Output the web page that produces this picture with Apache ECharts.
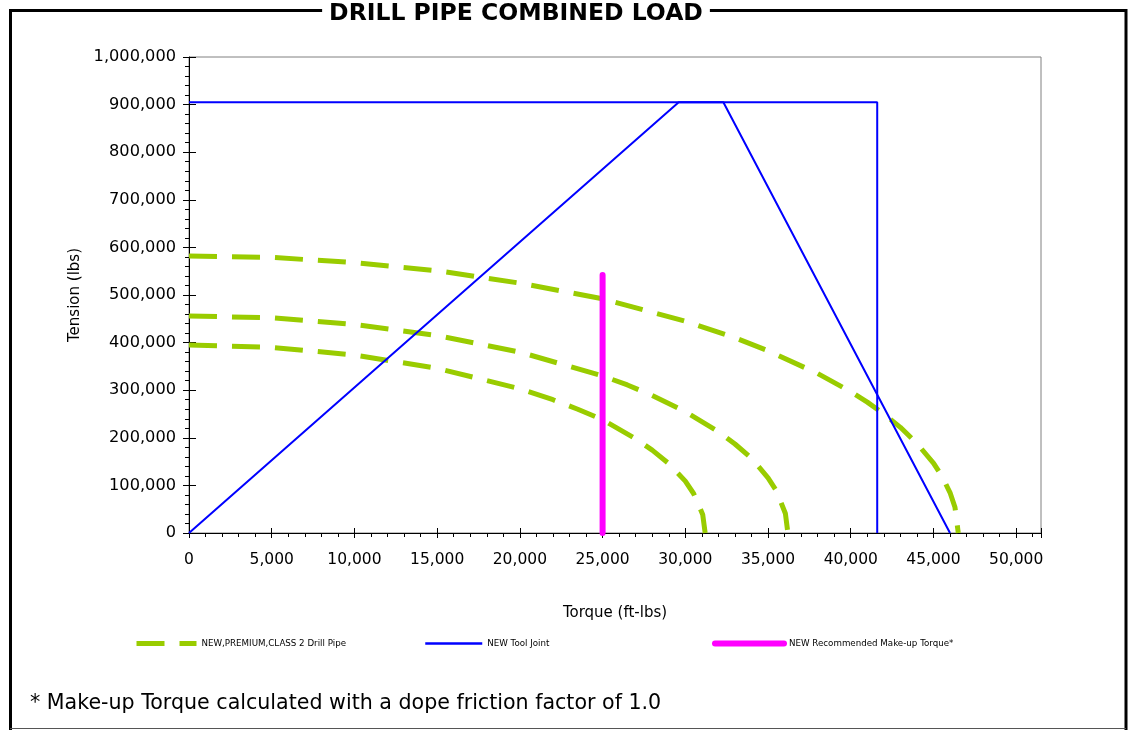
<!DOCTYPE html>
<html>
<head>
<meta charset="utf-8">
<title>Drill Pipe Combined Load</title>
<script src="https://cdn.jsdelivr.net/npm/echarts@6/dist/echarts.min.js"></script>
<style>
  html, body { margin: 0; padding: 0; background: #fff; }
  #chart { width: 1129px; height: 730px; }
</style>
</head>
<body>
<div id="chart"></div>
<script>
// torque (ft-lbs) / tension (lbs) pairs
const pipeOuter = [
  [0, 582000], [5000, 579000], [10000, 568000], [15000, 551000], [20000, 525000],
  [25000, 492000], [30000, 445000], [33000, 410000], [35000, 383000], [38000, 335000],
  [40000, 297000], [41000, 275000], [42000, 250000], [43000, 222000], [44000, 188000],
  [45000, 147000], [45500, 120000], [46000, 85000], [46300, 54000], [46500, 0]
];
const pipeMiddle = [
  [0, 456000], [5000, 452000], [10000, 438000], [15000, 415000], [20000, 380000],
  [25000, 330000], [26500, 311000], [28000, 289000], [30000, 255000], [32000, 213000],
  [33000, 187000], [34000, 157000], [35000, 116000], [35500, 89000], [36050, 41000],
  [36200, 0]
];
const pipeInner = [
  [0, 395000], [5000, 390000], [10000, 374000], [15000, 346000], [20000, 303000],
  [22000, 280000], [23500, 260000], [25000, 238000], [27000, 198000], [28000, 174000],
  [29000, 146000], [30000, 109000], [30500, 83000], [31050, 39000], [31200, 0]
];
const toolJointPeak = [[0, 0], [29600, 905000], [32300, 905000], [46000, 0]];
const toolJointLimit = [[0, 905000], [41600, 905000], [41600, 0]];
const makeUpTorque = [[25000, 0], [25000, 542000]];

const xMax = 51500, xStep = 5000;
const yMax = 1000000, yStep = 100000;

const FONT = 'DejaVu Sans';
const GREEN = '#99CC00', BLUE = '#0000FF', PINK = '#FF00FF';

const chart = echarts.init(document.getElementById('chart'));

const legendText = { fontFamily: FONT, fontSize: 8.7, color: '#000' };
// hide the marker the line legend icon draws in its middle
const legendItem = { opacity: 0 };

const option = {
  animation: false,
  backgroundColor: '#fff',
  grid: {
    left: 189, right: 88, top: 57, bottom: 197,
    show: true, borderColor: '#808080', borderWidth: 1
  },
  legend: [
    {
      data: ['NEW,PREMIUM,CLASS 2 Drill Pipe'], left: 129, top: 633, itemWidth: 60, itemHeight: 14,
      itemStyle: legendItem, lineStyle: { width: 5 }, textStyle: legendText
    },
    {
      data: ['NEW Tool Joint'], left: 419, top: 633, itemWidth: 57, itemHeight: 14,
      itemStyle: legendItem, lineStyle: { width: 2.5 }, textStyle: legendText
    },
    {
      data: ['NEW Recommended Make-up Torque*'], left: 707, top: 633, itemWidth: 69, itemHeight: 14,
      itemStyle: legendItem, lineStyle: { width: 6, cap: 'round' }, textStyle: legendText
    }
  ],
  xAxis: [
    {
      type: 'value', min: 0, max: xMax, interval: xStep,
      name: 'Torque (ft-lbs)', nameLocation: 'middle', nameGap: 73,
      nameTextStyle: { fontFamily: FONT, fontSize: 15, color: '#000' },
      axisLine: { show: true, onZero: false, lineStyle: { color: '#000', width: 1 } },
      axisTick: { show: true, length: 5, lineStyle: { color: '#000' } },
      minorTick: { show: true, splitNumber: 5, length: 4, lineStyle: { color: '#000' } },
      axisLabel: { margin: 19, fontFamily: FONT, fontSize: 15.5, color: '#000', showMaxLabel: false },
      splitLine: { show: false }
    },
    {
      type: 'value', min: 0, max: xMax, interval: xStep, position: 'bottom',
      axisLine: { show: false },
      axisTick: { show: true, inside: true, length: 5, lineStyle: { color: '#000' } },
      axisLabel: { show: false },
      splitLine: { show: false }
    }
  ],
  yAxis: [
    {
      type: 'value', min: 0, max: yMax, interval: yStep,
      name: 'Tension (lbs)', nameLocation: 'middle', nameGap: 96,
      nameTextStyle: { fontFamily: FONT, fontSize: 15, color: '#000' },
      axisLine: { show: true, onZero: false, lineStyle: { color: '#000', width: 1 } },
      axisTick: { show: true, length: 6, lineStyle: { color: '#000' } },
      minorTick: { show: true, splitNumber: 5, length: 4, lineStyle: { color: '#000' } },
      axisLabel: { margin: 13, fontFamily: FONT, fontSize: 16.2, color: '#000' },
      splitLine: { show: false }
    },
    {
      type: 'value', min: 0, max: yMax, interval: yStep, position: 'left',
      axisLine: { show: false },
      axisTick: { show: true, inside: true, length: 7, lineStyle: { color: '#000' } },
      axisLabel: { show: false },
      splitLine: { show: false }
    }
  ],
  series: [
    {
      name: 'NEW,PREMIUM,CLASS 2 Drill Pipe', type: 'line', data: pipeOuter,
      symbol: 'none', lineStyle: { color: GREEN, width: 5, type: [28, 15] }, itemStyle: { color: GREEN }
    },
    {
      name: 'NEW,PREMIUM,CLASS 2 Drill Pipe', type: 'line', data: pipeMiddle,
      symbol: 'none', lineStyle: { color: GREEN, width: 5, type: [28, 15] }, itemStyle: { color: GREEN }
    },
    {
      name: 'NEW,PREMIUM,CLASS 2 Drill Pipe', type: 'line', data: pipeInner,
      symbol: 'none', lineStyle: { color: GREEN, width: 5, type: [28, 15] }, itemStyle: { color: GREEN }
    },
    {
      name: 'NEW Tool Joint', type: 'line', data: toolJointPeak,
      symbol: 'none', lineStyle: { color: BLUE, width: 2 }, itemStyle: { color: BLUE }
    },
    {
      name: 'NEW Tool Joint', type: 'line', data: toolJointLimit,
      symbol: 'none', lineStyle: { color: BLUE, width: 2 }, itemStyle: { color: BLUE }
    },
    {
      name: 'NEW Recommended Make-up Torque*', type: 'line', data: makeUpTorque,
      symbol: 'none', lineStyle: { color: PINK, width: 6, cap: 'round' }, itemStyle: { color: PINK }, z: 3
    }
  ],
  graphic: [
    // outer frame
    { type: 'line', shape: { x1: 10, y1: 10.5, x2: 1126, y2: 10.5 }, style: { stroke: '#000', lineWidth: 3 }, z: 1 },
    { type: 'line', shape: { x1: 10.5, y1: 9, x2: 10.5, y2: 730 }, style: { stroke: '#000', lineWidth: 3 }, z: 1 },
    { type: 'line', shape: { x1: 1126, y1: 9, x2: 1126, y2: 730 }, style: { stroke: '#000', lineWidth: 3 }, z: 1 },
    { type: 'line', shape: { x1: 10, y1: 728.5, x2: 1126, y2: 728.5 }, style: { stroke: '#555', lineWidth: 1 }, z: 1 },
    {
      type: 'text', x: 516, y: 14, z: 2,
      style: {
        text: 'DRILL PIPE COMBINED LOAD', fontFamily: FONT, fontWeight: 'bold', fontSize: 23.5,
        fill: '#000', align: 'center', verticalAlign: 'middle',
        backgroundColor: '#fff', padding: [2, 7]
      }
    },
    {
      type: 'text', x: 30, y: 704, z: 2,
      style: {
        text: '* Make-up Torque calculated with a dope friction factor of 1.0',
        fontFamily: FONT, fontSize: 20.6, fill: '#000', align: 'left', verticalAlign: 'middle'
      }
    }
  ]
};

chart.setOption(option);
</script>
</body>
</html>
